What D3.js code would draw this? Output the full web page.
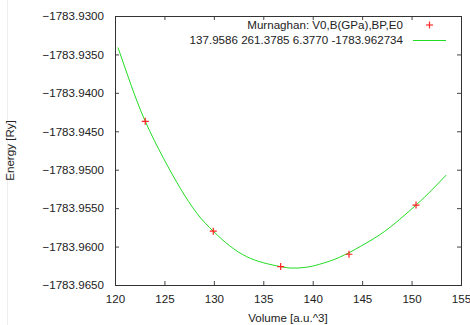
<!DOCTYPE html>
<html>
<head>
<meta charset="utf-8">
<script src="https://cdn.jsdelivr.net/npm/d3@7"></script>
<style>
  body { margin: 0; background: #fff; }
  svg { display: block; }
  text { font-family: "Liberation Sans", Arial, sans-serif; font-size: 11.6px; fill: #222; }
</style>
</head>
<body>
<svg id="chart" width="470" height="325"></svg>
<script>
// measured points (volume a.u.^3, energy Ry)
const pointVolume = [123.06, 129.94, 136.76, 143.67, 150.45];
const pointEnergy = [-1783.9437, -1783.9580, -1783.9626, -1783.9610, -1783.9546];

// fitted curve
const fitVolume = [120.3, 121.6, 123.06, 124.9, 126.6, 128.3, 129.94, 131.6, 133.3, 135.0, 136.7, 137.9, 139.3, 140.7, 142.7, 144.8, 146.5, 148.2, 150.45, 152.0, 153.5];
const fitEnergy = [-1783.9341, -1783.9389, -1783.9437, -1783.9485, -1783.9524, -1783.9557, -1783.9580, -1783.9599, -1783.9613, -1783.9621, -1783.9626, -1783.9628, -1783.9627, -1783.9623, -1783.9614, -1783.9600, -1783.9587, -1783.9571, -1783.9546, -1783.9527, -1783.9507];

const xTicks = [120, 125, 130, 135, 140, 145, 150, 155];
const yTicks = [-1783.9650, -1783.9600, -1783.9550, -1783.9500, -1783.9450, -1783.9400, -1783.9350, -1783.9300];

const legendTitle = "Murnaghan: V0,B(GPa),BP,E0";
const legendFit = "137.9586 261.3785 6.3770 -1783.962734";

const width = 470, height = 325;
const margin = {top: 16, right: 9, bottom: 40, left: 115};
const innerWidth = width - margin.left - margin.right;
const innerHeight = height - margin.top - margin.bottom;

const svg = d3.select("#chart");

// faint border line seen at the left of the original image
svg.append("line")
  .attr("x1", 7.5).attr("x2", 7.5).attr("y1", 0).attr("y2", height)
  .attr("stroke", "#eee");

const g = svg.append("g")
  .attr("transform", `translate(${margin.left}, ${margin.top})`);

const xScale = d3.scaleLinear().domain([120, 155]).range([0, innerWidth]);
const yScale = d3.scaleLinear().domain([-1783.9650, -1783.9300]).range([innerHeight, 0]);

const tickLen = 4;

// axes with inward ticks
const xAxis = d3.axisBottom(xScale).tickValues(xTicks).tickSize(-tickLen).tickPadding(10).tickFormat(d3.format("d"));
const yAxis = d3.axisLeft(yScale).tickValues(yTicks).tickSize(-tickLen).tickPadding(11).tickFormat(d3.format(".4f"));

const xAxisG = g.append("g").attr("transform", `translate(0, ${innerHeight})`).call(xAxis);
const yAxisG = g.append("g").call(yAxis);

// mirrored ticks on top and right
const xTop = g.append("g").call(d3.axisTop(xScale).tickValues(xTicks).tickSize(-tickLen));
const yRight = g.append("g").attr("transform", `translate(${innerWidth}, 0)`)
  .call(d3.axisRight(yScale).tickValues(yTicks).tickSize(-tickLen));
xTop.selectAll(".tick text").remove();
yRight.selectAll(".tick text").remove();

[xAxisG, yAxisG, xTop, yRight].forEach(a => {
  a.select(".domain").remove();
  a.selectAll(".tick line").attr("stroke", "#444");
  a.selectAll(".tick text").attr("fill", "#222").style("font-size", "11.6px")
    .style("font-family", "'Liberation Sans', Arial, sans-serif");
});

g.append("rect")
  .attr("x", 0.5).attr("y", 0.5)
  .attr("width", innerWidth).attr("height", innerHeight)
  .attr("fill", "none").attr("stroke", "#333");

// axis titles
svg.append("text")
  .attr("x", margin.left + innerWidth / 2).attr("y", 322)
  .attr("text-anchor", "middle")
  .text("Volume [a.u.^3]");

svg.append("text")
  .attr("transform", `translate(14, ${margin.top + innerHeight / 2}) rotate(-90)`)
  .attr("text-anchor", "middle")
  .text("Energy [Ry]");

// fitted curve
const fitData = fitVolume.map((v, i) => ({v: v, e: fitEnergy[i]}));
const line = d3.line()
  .x(d => xScale(d.v))
  .y(d => yScale(d.e))
  .curve(d3.curveNatural);

g.append("path")
  .datum(fitData)
  .attr("d", line)
  .attr("fill", "none")
  .attr("stroke", "#22dd22")
  .attr("stroke-width", 1);

// data points as "+"
const plus = "M-3.5,0H3.5M0,-3.5V3.5";
const pts = pointVolume.map((v, i) => ({v: v, e: pointEnergy[i]}));
g.selectAll(".pt")
  .data(pts)
  .enter()
  .append("path")
  .attr("class", "pt")
  .attr("d", plus)
  .attr("transform", d => `translate(${xScale(d.v)}, ${yScale(d.e)})`)
  .attr("stroke", "#ff2020")
  .attr("stroke-width", 1.2)
  .attr("fill", "none");

// legend
const legend = svg.append("g");
legend.append("text")
  .attr("x", 403).attr("y", 29)
  .attr("text-anchor", "end")
  .text(legendTitle);
legend.append("line")
  .attr("x1", 426).attr("x2", 433).attr("y1", 25).attr("y2", 25)
  .attr("stroke", "#ff3030").attr("stroke-width", 1.2);
legend.append("line")
  .attr("x1", 429.5).attr("x2", 429.5).attr("y1", 21.5).attr("y2", 28.5)
  .attr("stroke", "#ff3030").attr("stroke-width", 1.2);
legend.append("text")
  .attr("x", 403).attr("y", 44)
  .attr("text-anchor", "end")
  .text(legendFit);
legend.append("line")
  .attr("x1", 413).attr("x2", 446).attr("y1", 40.5).attr("y2", 40.5)
  .attr("stroke", "#22dd22");
</script>
</body>
</html>
